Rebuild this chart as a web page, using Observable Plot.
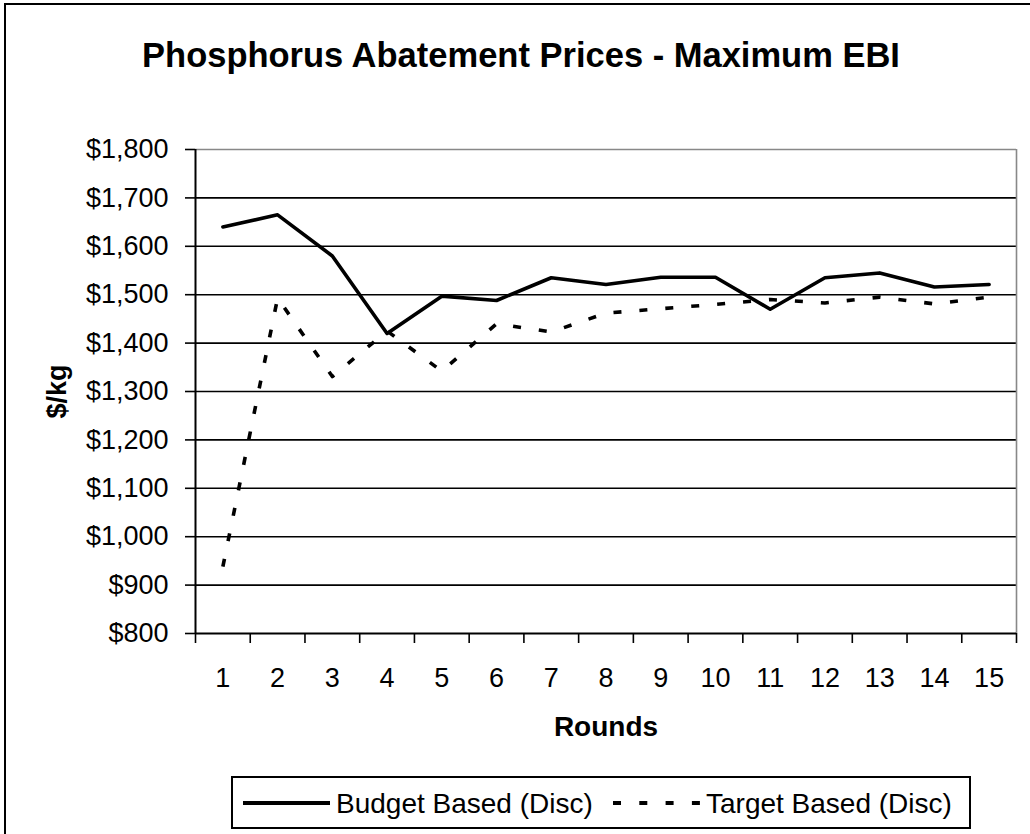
<!DOCTYPE html>
<html>
<head>
<meta charset="utf-8">
<script src="https://cdn.jsdelivr.net/npm/d3@7"></script>
<script src="https://cdn.jsdelivr.net/npm/@observablehq/plot@0.6"></script>
<style>
  html, body { margin: 0; padding: 0; background: #fff; overflow: hidden; }
  #wrap { position: relative; width: 1030px; height: 834px; overflow: hidden; font-family: "Liberation Sans", Arial, sans-serif; }
  #border { position: absolute; left: 4px; top: 3px; width: 3000px; height: 3000px; border: 2px solid #000; box-sizing: border-box; }
  #title { position: absolute; left: 521px; top: 38px; transform: translateX(-50%); white-space: nowrap; font-size: 34.5px; font-weight: bold; line-height: 1; color: #000; }
  #chart { position: absolute; left: 0; top: 100px; }
  #legend { position: absolute; left: 0; top: 760px; }
</style>
</head>
<body>
<div id="wrap">
  <div id="border"></div>
  <div id="title">Phosphorus Abatement Prices - Maximum EBI</div>
  <div id="chart"></div>
  <div id="legend"></div>
</div>
<script>
const rounds = [1,2,3,4,5,6,7,8,9,10,11,12,13,14,15];
const budgetBased = [1640,1665,1580,1420,1497,1488,1535,1521,1536,1536,1470,1535,1545,1516,1521];
const targetBased = [938,1493,1331,1425,1342,1440,1423,1462,1471,1480,1490,1483,1495,1481,1495];
const yTicks = [800,900,1000,1100,1200,1300,1400,1500,1600,1700,1800];
const seriesNames = ["Budget Based (Disc)", "Target Based (Disc)"];
const xTitle = "Rounds";
const yTitle = "$/kg";

const budgetData = rounds.map((r, i) => ({round: r, value: budgetBased[i]}));
const targetData = rounds.map((r, i) => ({round: r, value: targetBased[i]}));
const xEdges = [0.5].concat(rounds.map(r => r + 0.5));
const fmt = d => "$" + d3.format(",")(d);

const chart = Plot.plot({
  width: 1030,
  height: 660,
  marginLeft: 195,
  marginRight: 14,
  marginTop: 49,
  marginBottom: 127,
  style: {fontFamily: '"Liberation Sans", Arial, sans-serif', fontSize: "27px", color: "#000", background: "transparent", overflow: "visible"},
  x: {domain: [0.5, 15.5], axis: null},
  y: {domain: [800, 1800], axis: null},
  marks: [
    Plot.ruleY(yTicks.filter(d => d > 800 && d < 1800), {stroke: "#000", strokeWidth: 1.6}),
    Plot.ruleY([1800], {stroke: "#888", strokeWidth: 1.6}),
    Plot.ruleX([15.5], {stroke: "#888", strokeWidth: 1.6}),
    Plot.axisY({ticks: yTicks, tickFormat: fmt, tickSize: 10, tickPadding: 17, strokeWidth: 1.6, label: null, fontSize: 27}),
    Plot.axisX({ticks: xEdges, tickFormat: () => "", tickSize: 10, strokeWidth: 1.6, label: null}),
    Plot.axisX({ticks: rounds, tickFormat: d => String(d), tickSize: 0, tickPadding: 34, label: null, fontSize: 27}),
    Plot.ruleX([0.5], {stroke: "#000", strokeWidth: 2}),
    Plot.ruleY([800], {stroke: "#000", strokeWidth: 2}),
    Plot.line(targetData, {x: "round", y: "value", stroke: "#000", strokeWidth: 3.6, strokeDasharray: "8,18", strokeLinecap: "butt"}),
    Plot.line(budgetData, {x: "round", y: "value", stroke: "#000", strokeWidth: 3.6}),
    Plot.text([xTitle], {text: d => d, frameAnchor: "bottom", dy: 94, fontSize: 28, fontWeight: "bold", lineAnchor: "middle"}),
    Plot.text([yTitle], {text: d => d, frameAnchor: "left", dx: -138, rotate: -90, fontSize: 27, fontWeight: "bold", lineAnchor: "middle", textAnchor: "middle"})
  ]
});
document.getElementById("chart").appendChild(chart);

// Legend
const lg = d3.select("#legend").append("svg").attr("width", 1030).attr("height", 74)
  .style("font-family", '"Liberation Sans", Arial, sans-serif');
lg.append("rect").attr("x", 232).attr("y", 17).attr("width", 738).attr("height", 51)
  .attr("fill", "#fff").attr("stroke", "#000").attr("stroke-width", 2);
lg.append("line").attr("x1", 243).attr("x2", 330).attr("y1", 43).attr("y2", 43)
  .attr("stroke", "#000").attr("stroke-width", 4);
lg.append("text").attr("x", 336).attr("y", 53).attr("font-size", 28).text(seriesNames[0]);
lg.append("line").attr("x1", 613).attr("x2", 701).attr("y1", 43).attr("y2", 43)
  .attr("stroke", "#000").attr("stroke-width", 4).attr("stroke-dasharray", "8,18.3");
lg.append("text").attr("x", 706).attr("y", 53).attr("font-size", 28).text(seriesNames[1]);
</script>
</body>
</html>
